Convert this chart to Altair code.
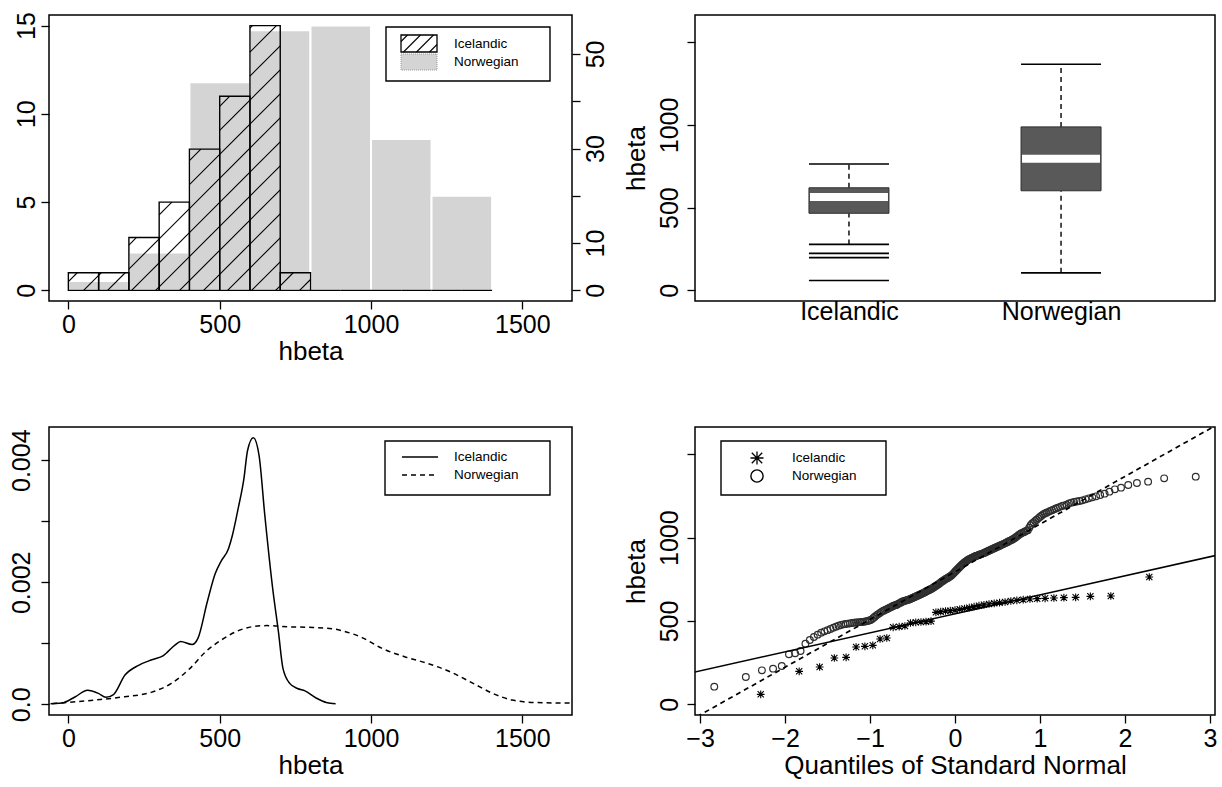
import math
import numpy as np
import pandas as pd
import altair as alt

# ---- hbeta observations, sorted, per group ---------------------------------
icelandic = [60, 198, 224, 278, 282, 344, 348, 354, 392, 398, 462, 466, 470,
             488, 492, 494, 496, 499, 552, 556, 560, 562, 565, 570, 575, 580,
             586, 592, 597, 602, 606, 610, 614, 620, 624, 628, 632, 634, 636,
             638, 640, 642, 648, 650, 764]

norwegian = [106, 164, 204, 214, 230, 300, 306, 320, 364, 386,
             404, 418, 430, 438, 445, 452, 460, 466, 472, 476, 480, 482, 484,
             486, 488, 490, 491, 492, 493, 494, 495, 497, 499, 502, 505, 510,
             518, 526, 534, 540, 546, 552, 558, 562, 566, 570, 574, 578, 582,
             586, 590, 593, 595, 598,
             602, 606, 610, 614, 617, 620, 622, 624, 626, 628, 631, 634, 637,
             640, 643, 646, 649, 652, 655, 658, 661, 664, 667, 670, 673, 677,
             680, 683, 686, 689, 692, 696, 700, 704, 708, 712, 716, 720, 724,
             729, 734, 738, 742, 746, 750, 754, 757, 760, 764, 768, 772, 777,
             783, 789, 796,
             802, 808, 814, 820, 826, 832, 838, 843, 848, 853, 857, 861, 866,
             870, 873, 876, 879, 882, 885, 887, 890, 892, 894, 896, 899, 901,
             903, 906, 908, 911, 914, 917, 920, 923, 926, 929, 932, 935, 938,
             941, 944, 947, 950, 953, 957, 960, 963, 966, 970, 973, 977, 981,
             984, 988, 992, 996,
             1003, 1008, 1014, 1020, 1025, 1029, 1033, 1037, 1041, 1045, 1060,
             1075, 1085, 1092, 1100, 1108, 1116, 1124, 1132, 1140, 1145, 1150,
             1155, 1160, 1165, 1170, 1175, 1180, 1185, 1190, 1194, 1198,
             1206, 1210, 1214, 1217, 1220, 1224, 1230, 1236, 1242, 1248, 1256,
             1264, 1276, 1290, 1300, 1316, 1328, 1336, 1356, 1366]

# ---- density estimates of hbeta ---------------------------------------------
ice_dens_x = [-59, -22, 23, 63, 99, 124, 149, 187, 232, 276, 314, 352, 371,
              409, 428, 459, 485, 504, 529, 542, 561, 580, 592, 611, 630, 649,
              675, 694, 709, 732, 757, 782, 820, 852, 883]
ice_dens_y = [0.00001, 0.00002, 0.000125, 0.00023, 0.00018, 0.000115, 0.00016,
              0.00048, 0.00064, 0.00073, 0.0008, 0.00097, 0.00103, 0.00098,
              0.00108, 0.00168, 0.00214, 0.00234, 0.00255, 0.00277, 0.00321,
              0.0037, 0.00416, 0.00437, 0.00408, 0.0031, 0.0019, 0.00119,
              0.00059, 0.00034, 0.00026, 0.00022, 0.0001, 0.00003, 0.00001]
nor_dens_x = [-53, 86, 187, 276, 339, 402, 453, 504, 554, 605, 656, 732, 808,
              871, 909, 972, 1035, 1111, 1187, 1263, 1339, 1402, 1466, 1542,
              1662]
nor_dens_y = [0.00001, 0.00007, 0.000125, 0.0002, 0.00034, 0.00059, 0.00086,
              0.00105, 0.00119, 0.00127, 0.00129, 0.00127, 0.00126, 0.00124,
              0.0012, 0.00109, 0.00092, 0.00078, 0.00067, 0.00053, 0.00034,
              0.00018, 0.00007, 0.00003, 0.00002]

groups = ["Icelandic", "Norwegian"]

FONT = "Liberation Sans"
LABEL_SIZE = 25
TITLE_SIZE = 26
LEGEND_SIZE = 13.5

W_LEFT, W_RIGHT = 523, 520
H_TOP, H_BOTTOM = 286, 288
HB_DOMAIN = [-64, 1664]          # 0..1600 plus 4 % on each side

long_df = pd.DataFrame({
    "grp": [groups[0]] * len(icelandic) + [groups[1]] * len(norwegian),
    "v": icelandic + norwegian,
})


# ---- small helpers for the boxed legends (pixel coordinates) ---------------
def px(field):
    return alt.X(field, scale=None, axis=None)


def py(field):
    return alt.Y(field, scale=None, axis=None)


def deco_rects(rows, **mark):
    return alt.Chart(pd.DataFrame(rows)).mark_rect(**mark).encode(
        x=px("x:Q"), x2="x2:Q", y=py("y:Q"), y2="y2:Q")


def deco_rules(rows, **mark):
    return alt.Chart(pd.DataFrame(rows)).mark_rule(**mark).encode(
        x=px("x:Q"), x2="x2:Q", y=py("y:Q"), y2="y2:Q")


def deco_text(rows):
    return alt.Chart(pd.DataFrame(rows)).mark_text(
        align="left", baseline="middle", font=FONT, fontSize=LEGEND_SIZE,
        color="black").encode(x=px("x:Q"), y=py("y:Q"), text="t:N")


def swatch_hatch(x0, y0, x1, y1, gap=13.0):
    rows = []
    c = x0 + y0 + gap / 2
    while c < x1 + y1:
        s = max(x0, c - y1)
        e = min(x1, c - y0)
        if e - s > 0.5:
            rows.append({"x": s, "y": c - s, "x2": e, "y2": c - e})
        c += gap
    return rows


def hatch(x0s, x1s, tops, xdom, ydom, width, height, gap=24.0):
    """45-degree shading lines clipped to each bar, in data units."""
    sx = width / (xdom[1] - xdom[0])
    sy = height / (ydom[1] - ydom[0])
    rows = []
    for a0, a1, h in zip(x0s, x1s, tops):
        if h <= 0:
            continue
        p0, p1 = (a0 - xdom[0]) * sx, (a1 - xdom[0]) * sx
        q0, q1 = (0 - ydom[0]) * sy, (h - ydom[0]) * sy
        k = math.ceil((p0 - q1) / gap)
        while k * gap <= p1 - q0:
            c = k * gap
            s, e = max(p0, q0 + c), min(p1, q1 + c)
            if e - s > 0.5:
                rows.append({"hx": s / sx + xdom[0], "hy": (s - c) / sy + ydom[0],
                             "hx2": e / sx + xdom[0], "hy2": (e - c) / sy + ydom[0]})
            k += 1
    return pd.DataFrame(rows)


# ---- panel 1: overlaid histograms -----------------------------------------
ice_edges = np.arange(0, 1401, 100)
nor_edges = np.arange(0, 1401, 200)
ice_counts, _ = np.histogram(icelandic, bins=ice_edges)
nor_counts, _ = np.histogram(norwegian, bins=nor_edges)

ice_hist = pd.DataFrame({"start": ice_edges[:-1], "end": ice_edges[1:], "count": ice_counts})
nor_hist = pd.DataFrame({"start": nor_edges[:-1], "end": nor_edges[1:], "count": nor_counts})

ice_top = float(ice_counts.max())
ice_dom = [-0.04 * ice_top, 1.04 * ice_top]
ratio = float(nor_counts.max()) / ice_top
nor_dom = [ice_dom[0] * ratio, ice_dom[1] * ratio]

hatch_df = hatch(ice_hist["start"], ice_hist["end"], ice_hist["count"],
                 HB_DOMAIN, ice_dom, W_LEFT, H_TOP)

x_hb = alt.Scale(domain=HB_DOMAIN, nice=False, zero=False)
x_hb_axis = alt.Axis(values=[0, 500, 1000, 1500], format="d", title="hbeta",
                     labelPadding=3, titlePadding=1)
y_ice_axis = alt.Axis(values=[0, 5, 10, 15], title=None, labelAngle=270,
                      labelAlign="center", labelBaseline="alphabetic",
                      labelPadding=7)
y_nor_axis = alt.Axis(orient="right", values=[0, 10, 20, 30, 40, 50], title=None,
                      labelExpr="datum.value == 20 || datum.value == 40 ? '' : datum.label",
                      labelAngle=270, labelAlign="center", labelBaseline="top",
                      labelPadding=3)

nor_bars = alt.Chart(nor_hist).mark_rect(fill="#d4d4d4", stroke="white", strokeWidth=2).encode(
    x=alt.X("start:Q", scale=x_hb, axis=x_hb_axis), x2="end:Q",
    y=alt.Y("count:Q", scale=alt.Scale(domain=nor_dom, nice=False, zero=False), axis=y_nor_axis),
    y2=alt.datum(0))

y_ice = alt.Scale(domain=ice_dom, nice=False, zero=False)
ice_hatch = alt.Chart(hatch_df).mark_rule(color="black", strokeWidth=1.1).encode(
    x=alt.X("hx:Q", scale=x_hb, axis=x_hb_axis), x2="hx2:Q",
    y=alt.Y("hy:Q", scale=y_ice, axis=y_ice_axis), y2="hy2:Q")
ice_bars = alt.Chart(ice_hist).mark_rect(fill="transparent", stroke="black", strokeWidth=1.4).encode(
    x=alt.X("start:Q", scale=x_hb, axis=x_hb_axis), x2="end:Q",
    y=alt.Y("count:Q", scale=y_ice, axis=y_ice_axis), y2=alt.datum(0))

tl_legend = alt.layer(
    deco_rects([{"x": 337, "y": 12, "x2": 501, "y2": 66}], fill="white", stroke="black", strokeWidth=1.4),
    deco_rects([{"x": 352, "y": 20, "x2": 388, "y2": 37}], fill="white", stroke="black", strokeWidth=1.3),
    deco_rules(swatch_hatch(352, 20, 388, 37), color="black", strokeWidth=1.1),
    deco_rects([{"x": 352, "y": 39, "x2": 388, "y2": 55}], fill="#d4d4d4", stroke="#9a9a9a",
               strokeWidth=1, strokeDash=[1, 1]),
    deco_text([{"x": 405, "y": 29, "t": groups[0]}, {"x": 405, "y": 47, "t": groups[1]}]),
)

tl = alt.layer(nor_bars, alt.layer(ice_hatch, ice_bars), tl_legend).resolve_scale(
    y="independent").properties(width=W_LEFT, height=H_TOP)

# ---- panel 2: box plots ---------------------------------------------------
x_box = alt.X("grp:N", scale=alt.Scale(type="point", domain=groups, padding=0.726),
              axis=alt.Axis(title=None, ticks=False, tickSize=0, labelAngle=0,
                            labelPadding=-2))
y_hb = alt.Scale(domain=HB_DOMAIN, nice=False, zero=False)
y_hb_axis = alt.Axis(values=[0, 500, 1000, 1500], format="d", title="hbeta",
                     labelExpr="datum.value == 1500 ? '' : datum.label",
                     labelAngle=270, labelAlign="center", labelBaseline="alphabetic",
                     labelPadding=10, titlePadding=8)


def yb(field):
    return alt.Y(field, scale=y_hb, axis=y_hb_axis)


fences = alt.Chart(long_df).transform_joinaggregate(
    q1="q1(v)", q3="q3(v)", groupby=["grp"]
).transform_calculate(
    lo="datum.q1 - 1.5 * (datum.q3 - datum.q1)",
    hi="datum.q3 + 1.5 * (datum.q3 - datum.q1)")
inside = fences.transform_filter("datum.v >= datum.lo && datum.v <= datum.hi").transform_aggregate(
    wlo="min(v)", whi="max(v)", q1="min(q1)", q3="min(q3)", groupby=["grp"])
stats = alt.Chart(long_df).transform_aggregate(
    q1="q1(v)", q3="q3(v)", med="median(v)", groupby=["grp"])
outliers = fences.transform_filter("datum.v < datum.lo || datum.v > datum.hi")

whisk_lo = inside.mark_rule(color="black", strokeWidth=1.4, strokeDash=[5, 4]).encode(
    x=x_box, y=yb("wlo:Q"), y2="q1:Q")
whisk_hi = inside.mark_rule(color="black", strokeWidth=1.4, strokeDash=[5, 4]).encode(
    x=x_box, y=yb("q3:Q"), y2="whi:Q")
cap_lo = inside.mark_tick(color="black", opacity=1, size=80, thickness=1.6).encode(
    x=x_box, y=yb("wlo:Q"))
cap_hi = inside.mark_tick(color="black", opacity=1, size=80, thickness=1.6).encode(
    x=x_box, y=yb("whi:Q"))
box = stats.mark_bar(size=80, color="#595959", opacity=1, stroke="#2e2e2e", strokeWidth=1).encode(
    x=x_box, y=yb("q1:Q"), y2="q3:Q")
med = stats.mark_tick(size=78, thickness=8, color="white", opacity=1).encode(
    x=x_box, y=yb("med:Q"))
outl = outliers.mark_tick(color="black", opacity=1, size=80, thickness=1.6).encode(
    x=x_box, y=yb("v:Q"))

tr = alt.layer(whisk_lo, whisk_hi, cap_lo, cap_hi, box, med, outl).properties(
    width=W_RIGHT, height=H_TOP)

# ---- panel 3: density curves ----------------------------------------------
dens_df = pd.concat([
    pd.DataFrame({"grp": groups[0], "x": ice_dens_x, "d": ice_dens_y}),
    pd.DataFrame({"grp": groups[1], "x": nor_dens_x, "d": nor_dens_y}),
])
d_top = max(ice_dens_y)
y_d = alt.Scale(domain=[-0.04 * d_top, 1.04 * d_top], nice=False, zero=False)
y_d_axis = alt.Axis(values=[0, 0.001, 0.002, 0.003, 0.004], title=None,
                    labelExpr="datum.value == 0 ? '0.0' : (datum.value == 0.002 || datum.value == 0.004) ? format(datum.value, '.3f') : ''",
                    labelAngle=270, labelAlign="center", labelBaseline="alphabetic",
                    labelPadding=12)

dens_base = alt.Chart(dens_df).encode(
    x=alt.X("x:Q", scale=x_hb, axis=x_hb_axis),
    y=alt.Y("d:Q", scale=y_d, axis=y_d_axis), order="x:Q")
ice_line = dens_base.transform_filter(alt.datum.grp == groups[0]).mark_line(
    color="black", strokeWidth=1.5, interpolate="monotone", clip=True)
nor_line = dens_base.transform_filter(alt.datum.grp == groups[1]).mark_line(
    color="black", strokeWidth=1.5, strokeDash=[5, 4], interpolate="monotone", clip=True)

bl_legend = alt.layer(
    deco_rects([{"x": 336, "y": 14, "x2": 501, "y2": 68}], fill="white", stroke="black", strokeWidth=1.4),
    deco_rules([{"x": 353, "y": 30, "x2": 389, "y2": 30}], color="black", strokeWidth=1.5),
    deco_rules([{"x": 353, "y": 48, "x2": 389, "y2": 48}], color="black", strokeWidth=1.5, strokeDash=[5, 4]),
    deco_text([{"x": 405, "y": 30, "t": groups[0]}, {"x": 405, "y": 48, "t": groups[1]}]),
)

bl = alt.layer(ice_line, nor_line, bl_legend).properties(width=W_LEFT, height=H_BOTTOM)

# ---- panel 4: normal QQ plots ---------------------------------------------
ASTERISK = "M-1,0L1,0M0,-1L0,1M-0.8,-0.8L0.8,0.8M-0.8,0.8L0.8,-0.8"
x_q = alt.Scale(domain=[-3.06, 3.06], nice=False, zero=False)
x_q_axis = alt.Axis(values=[-3, -2, -1, 0, 1, 2, 3], title="Quantiles of Standard Normal",
                    labelPadding=3, titlePadding=1)

qq = alt.Chart(long_df).transform_window(
    rank="row_number()", sort=[alt.SortField("v")], groupby=["grp"]
).transform_joinaggregate(n="count()", groupby=["grp"]).transform_calculate(
    q="quantileNormal((datum.rank - 0.5) / datum.n)")

qq_enc = dict(x=alt.X("q:Q", scale=x_q, axis=x_q_axis), y=yb("v:Q"))
nor_pts = qq.transform_filter(alt.datum.grp == groups[1]).mark_point(
    shape="circle", size=45, filled=False, color="#2e2e2e", opacity=1, strokeWidth=1.2
).encode(**qq_enc)
ice_pts = qq.transform_filter(alt.datum.grp == groups[0]).mark_point(
    shape=ASTERISK, size=60, filled=False, color="black", opacity=1, strokeWidth=1.1
).encode(**qq_enc)

qqline = alt.Chart(long_df).transform_aggregate(
    q1="q1(v)", q3="q3(v)", groupby=["grp"]
).transform_calculate(
    slope="(datum.q3 - datum.q1) / (quantileNormal(0.75) - quantileNormal(0.25))"
).transform_calculate(
    icpt="datum.q1 - datum.slope * quantileNormal(0.25)"
).transform_calculate(
    xa="-3.5", xb="3.5",
    ya="datum.icpt - 3.5 * datum.slope", yb="datum.icpt + 3.5 * datum.slope")
line_enc = dict(x=alt.X("xa:Q", scale=x_q, axis=x_q_axis), x2="xb:Q", y=yb("ya:Q"), y2="yb:Q")
ice_qql = qqline.transform_filter(alt.datum.grp == groups[0]).mark_rule(
    color="black", strokeWidth=1.5, clip=True).encode(**line_enc)
nor_qql = qqline.transform_filter(alt.datum.grp == groups[1]).mark_rule(
    color="black", strokeWidth=1.7, strokeDash=[5, 4], clip=True).encode(**line_enc)

br_legend = alt.layer(
    deco_rects([{"x": 26, "y": 14, "x2": 191, "y2": 68}], fill="white", stroke="black", strokeWidth=1.4),
    alt.Chart(pd.DataFrame({"x": [62], "y": [31]})).mark_point(
        shape=ASTERISK, size=170, filled=False, color="black", opacity=1, strokeWidth=1.3
    ).encode(x=px("x:Q"), y=py("y:Q")),
    alt.Chart(pd.DataFrame({"x": [62], "y": [49]})).mark_point(
        shape="circle", size=150, filled=False, color="black", opacity=1, strokeWidth=1.4
    ).encode(x=px("x:Q"), y=py("y:Q")),
    deco_text([{"x": 97, "y": 31, "t": groups[0]}, {"x": 97, "y": 49, "t": groups[1]}]),
)

br = alt.layer(nor_pts, ice_pts, ice_qql, nor_qql, br_legend).properties(
    width=W_RIGHT, height=H_BOTTOM)

# ---- assemble ---------------------------------------------------------------
chart = alt.concat(
    tl, tr, bl, br, columns=2, bounds="flush",
    spacing=alt.RowColnumber(row=126, column=123),
).properties(
    padding={"left": 8, "top": 10, "right": 2, "bottom": 2}
).configure_view(
    stroke="black", strokeWidth=1.5
).configure_axis(
    labelFont=FONT, titleFont=FONT, labelFontSize=LABEL_SIZE, titleFontSize=TITLE_SIZE,
    titleFontWeight="normal", labelColor="black", titleColor="black",
    tickColor="black", tickSize=8, tickWidth=1.3, domain=False, grid=False,
    labelFlush=False, labelOverlap=False,
)

chart.save("out.html", embed_options={"renderer": "svg", "actions": False})
